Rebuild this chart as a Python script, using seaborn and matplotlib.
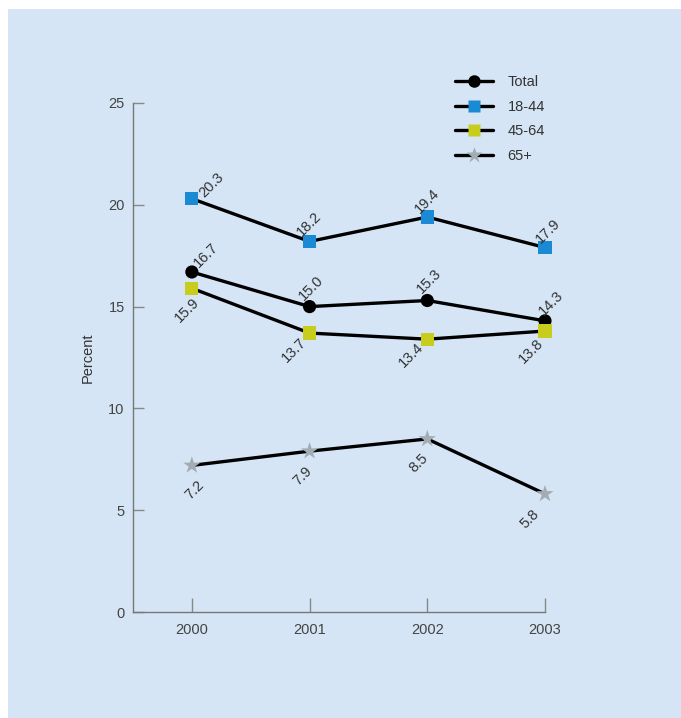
import matplotlib
matplotlib.use("Agg")
import matplotlib.pyplot as plt
from matplotlib.lines import Line2D
import pandas as pd
import seaborn as sns

years = [2000, 2001, 2002, 2003]
series_names = ["Total", "18-44", "45-64", "65+"]
total = [16.7, 15.0, 15.3, 14.3]
age_18_44 = [20.3, 18.2, 19.4, 17.9]
age_45_64 = [15.9, 13.7, 13.4, 13.8]
age_65_plus = [7.2, 7.9, 8.5, 5.8]
y_ticks = [0, 5, 10, 15, 20, 25]

values = {"Total": total, "18-44": age_18_44, "45-64": age_45_64, "65+": age_65_plus}
rows = []
for name in series_names:
    for yr, v in zip(years, values[name]):
        rows.append({"year": yr, "percent": v, "group": name})
df = pd.DataFrame(rows)

bg = "#d5e5f5"
marker_colors = {"Total": "#000000", "18-44": "#1a8ad4", "45-64": "#c8cc1c", "65+": "#a3abb3"}
marker_shapes = {"Total": "o", "18-44": "s", "45-64": "s", "65+": "*"}
marker_sizes = {"Total": 90, "18-44": 90, "45-64": 90, "65+": 170}

# label offsets in pixels (dx, dy) for each series
label_offsets = {
    "Total": [(14, 17), (2, 19), (2, 19), (6, 18)],
    "18-44": [(20, 14), (0, 17), (0, 16), (3, 16)],
    "45-64": [(-5, -22), (-15, -17), (-16, -16), (-14, -20)],
    "65+": [(3, -25), (-7, -25), (-9, -24), (-15, -25)],
}

sns.set_theme(style="ticks")
plt.rcParams["font.family"] = ["Liberation Sans", "DejaVu Sans"]
fs = 10.5

fig = plt.figure(figsize=(6.81, 7.18), dpi=100)
fig.patch.set_facecolor("white")

# light blue backdrop panel behind the chart
bg_ax = fig.add_axes([8 / 681, 0, 1 - 8 / 681, 1 - 9 / 718], zorder=-10)
bg_ax.set_facecolor(bg)
bg_ax.set_xticks([])
bg_ax.set_yticks([])
for s in bg_ax.spines.values():
    s.set_visible(False)

ax = fig.add_axes([133 / 681, 1 - 612 / 718, (545 - 133) / 681, (612 - 103) / 718])
ax.patch.set_alpha(0)

for name in series_names:
    sub = df[df["group"] == name]
    sns.lineplot(data=sub, x="year", y="percent", color="black", linewidth=2.4,
                 ax=ax, legend=False, zorder=2, clip_on=False)
    sns.scatterplot(data=sub, x="year", y="percent", color=marker_colors[name],
                    marker=marker_shapes[name], s=marker_sizes[name],
                    edgecolor="none", ax=ax, legend=False, zorder=3, clip_on=False)
    for (yr, v), (dx, dy) in zip(zip(years, values[name]), label_offsets[name]):
        ax.annotate(f"{v:.1f}", (yr, v), xytext=(dx, dy), textcoords="offset pixels",
                    ha="center", va="center", rotation=45, fontsize=fs,
                    color="#333333", zorder=4)

ax.set_xlim(1999.5, 2003)
ax.set_ylim(0, 25)
ax.set_xticks(years)
ax.set_xticklabels([str(y) for y in years])
ax.set_yticks(y_ticks)
ax.set_xlabel("")
ax.set_ylabel("Percent", fontsize=fs, color="#333333", labelpad=10)
sns.despine(ax=ax)
for side in ("left", "bottom"):
    ax.spines[side].set_color("#777777")
    ax.spines[side].set_linewidth(1.0)
ax.tick_params(axis="y", direction="in", length=8, width=1, color="#888888",
               labelsize=fs, labelcolor="#444444", pad=6)
ax.tick_params(axis="x", direction="in", length=10, width=1, color="#888888",
               labelsize=fs, labelcolor="#444444", pad=8)

handles = []
for name in series_names:
    handles.append(Line2D([0], [0], color="black", linewidth=2.4,
                          marker=marker_shapes[name], markersize=9 if name != "65+" else 12,
                          markerfacecolor=marker_colors[name], markeredgecolor="none"))
leg = fig.legend(handles, series_names, loc="upper left",
                 bbox_to_anchor=(442 / 681, 1 - 62 / 718), frameon=False,
                 fontsize=fs, handlelength=2.6, labelspacing=0.72, handletextpad=1.0)
for t in leg.get_texts():
    t.set_color("#333333")

fig.savefig("out.png", dpi=100, facecolor=fig.get_facecolor())
